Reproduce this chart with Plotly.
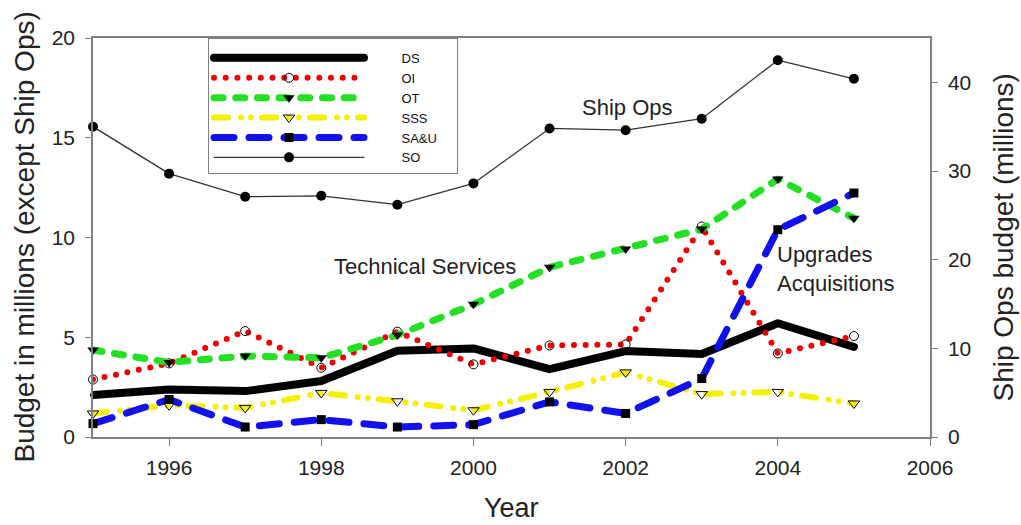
import plotly.graph_objects as go

years = [1995, 1996, 1997, 1998, 1999, 2000, 2001, 2002, 2003, 2004, 2005]
ds = [2.1, 2.38, 2.3, 2.81, 4.32, 4.44, 3.4, 4.31, 4.16, 5.7, 4.52]
oi = [2.88, 3.69, 5.31, 3.47, 5.28, 3.64, 4.59, 4.64, 10.55, 4.19, 5.06]
ot = [4.36, 3.74, 4.06, 3.97, 5.11, 6.65, 8.51, 9.42, 10.42, 12.93, 10.97]
sss = [1.18, 1.59, 1.46, 2.21, 1.79, 1.34, 2.26, 3.24, 2.15, 2.26, 1.68]
sau = [0.67, 1.88, 0.5, 0.87, 0.5, 0.62, 1.76, 1.18, 2.93, 10.39, 12.23]
so = [35.0, 29.7, 27.1, 27.2, 26.2, 28.6, 34.8, 34.6, 35.9, 42.5, 40.4]

series_names = ["DS", "OI", "OT", "SSS", "SA&U", "SO"]
x_ticks = [1996, 1998, 2000, 2002, 2004, 2006]
y1_ticks = [0, 5, 10, 15, 20]
y2_ticks = [0, 10, 20, 30, 40]

FONT = "Liberation Sans, Arial, sans-serif"
AXC = "#808080"
TXT = "#222222"
PAD = "\u00a0" * 9
TAIL = "\u00a0" * 4


def lab(i):
    return PAD + series_names[i] + TAIL


fig = go.Figure()

fig.add_trace(go.Scatter(x=years, y=ds, name=lab(0), mode="lines+markers",
                         line=dict(color="black", width=8),
                         marker=dict(symbol="circle", size=6, color="black"),
                         cliponaxis=False))
fig.add_trace(go.Scatter(x=years, y=oi, name=lab(1), mode="lines+markers",
                         line=dict(color="#f00000", width=6, dash="0px,11.7px"),
                         marker=dict(symbol="circle-open", size=9, color="black",
                                     line=dict(width=1, color="black")),
                         cliponaxis=False))
fig.add_trace(go.Scatter(x=years, y=ot, name=lab(2), mode="lines+markers",
                         line=dict(color="#22e022", width=7, dash="9px,12.7px"),
                         marker=dict(symbol="triangle-down", size=10, color="black"),
                         cliponaxis=False))
fig.add_trace(go.Scatter(x=years, y=sss, name=lab(3), mode="lines+markers",
                         line=dict(color="#f5f000", width=6, dash="14px,13px,0px,10px,0px,11px"),
                         marker=dict(symbol="triangle-down-open", size=10, color="black",
                                     line=dict(width=1, color="black")),
                         cliponaxis=False))
fig.add_trace(go.Scatter(x=years, y=sau, name=lab(4), mode="lines+markers",
                         line=dict(color="#1010f0", width=7, dash="20px,15px"),
                         marker=dict(symbol="square", size=9, color="black"),
                         cliponaxis=False))
fig.add_trace(go.Scatter(x=years, y=so, name=lab(5), mode="lines+markers", yaxis="y2",
                         line=dict(color="#333333", width=1.3),
                         marker=dict(symbol="circle", size=10, color="black"),
                         cliponaxis=False))

# in-plot labels
fig.add_annotation(x=2002.02, y=37.2, yref="y2", text="Ship Ops", showarrow=False,
                   font=dict(family=FONT, size=22, color=TXT))
fig.add_annotation(x=1999.36, y=8.56, text="Technical Services", showarrow=False,
                   font=dict(family=FONT, size=22, color=TXT))
fig.add_annotation(x=2003.96, y=8.44, text="Upgrades<br>Acquisitions", showarrow=False,
                   xanchor="left", align="left",
                   font=dict(family=FONT, size=22, color=TXT))

# axis titles
fig.add_annotation(xref="paper", yref="paper", x=-0.0824, y=0.5, textangle=-90,
                   xanchor="center", yanchor="middle",
                   text="Budget in millions (except Ship Ops)", showarrow=False,
                   font=dict(family=FONT, size=28, color=TXT))
fig.add_annotation(xref="paper", yref="paper", x=1.0884, y=0.5, textangle=-90,
                   xanchor="center", yanchor="middle",
                   text="Ship Ops budget (millions)", showarrow=False,
                   font=dict(family=FONT, size=28, color=TXT))
fig.add_annotation(xref="paper", yref="paper", x=0.5, y=-0.178,
                   xanchor="center", yanchor="middle",
                   text="Year", showarrow=False,
                   font=dict(family=FONT, size=27, color=TXT))

tickfont = dict(size=21, family=FONT, color=TXT)

fig.update_layout(
    width=1021, height=525,
    margin=dict(l=93, r=91, t=38, b=88),
    paper_bgcolor="white", plot_bgcolor="white",
    font=dict(family=FONT, color=TXT),
    showlegend=True,
    legend=dict(x=0.1374, y=1, xanchor="left", yanchor="top",
                bordercolor=AXC, borderwidth=1, bgcolor="white",
                font=dict(family=FONT, size=13, color="#111"),
                title=dict(text="\u00a0", font=dict(size=3)),
                itemwidth=150, tracegroupgap=0),
    xaxis=dict(range=[1995, 2006], tickvals=x_ticks, ticks="outside", ticklen=7,
               tickcolor=AXC, showline=True, linecolor=AXC, linewidth=1.5,
               mirror=True, showgrid=False, zeroline=False,
               tickfont=tickfont, ticklabelstandoff=4),
    yaxis=dict(range=[0, 20], tickvals=y1_ticks, ticks="outside", ticklen=6,
               tickcolor=AXC, showline=True, linecolor=AXC, linewidth=1.5,
               mirror=True, showgrid=False, zeroline=False,
               tickfont=tickfont, ticklabelstandoff=6),
    yaxis2=dict(range=[0, 45], tickvals=y2_ticks, overlaying="y", side="right",
                ticks="outside", ticklen=6, tickcolor=AXC, showline=True,
                linecolor=AXC, linewidth=1.5, showgrid=False, zeroline=False,
                tickfont=tickfont, ticklabelstandoff=6),
)

post = """
var s=document.createElement('style');
s.innerHTML='.js-line{stroke-linecap:round !important;stroke-linejoin:round !important;}';
document.head.appendChild(s);
"""
fig.write_html("out.html", post_script=post)
